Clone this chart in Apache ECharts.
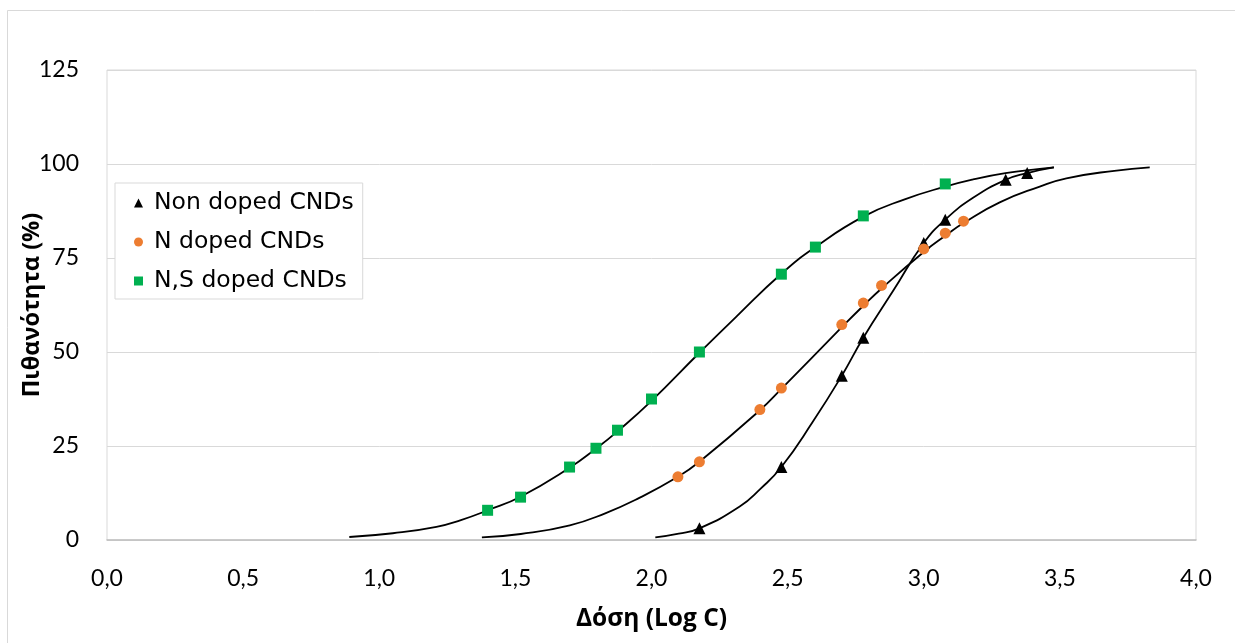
<!DOCTYPE html>
<html>
<head>
<meta charset="utf-8">
<script src="https://cdn.jsdelivr.net/npm/echarts@6/dist/echarts.min.js"></script>
<style>
  html, body { margin: 0; padding: 0; background: #fff; }
  #chart { width: 1235px; height: 643px; }
</style>
</head>
<body>
<div id="chart"></div>
<script>
// ---- Data ----
const xTicks = [0, 0.5, 1, 1.5, 2, 2.5, 3, 3.5, 4];
const yTicks = [0, 25, 50, 75, 100, 125];

const seriesNames = ['Non doped CNDs', 'N doped CNDs', 'N,S doped CNDs'];

// Measured points
const nonDopedX = [2.176, 2.477, 2.699, 2.778, 3.000, 3.079, 3.301, 3.380];
const nonDopedY = [3.1, 19.4, 43.7, 53.8, 79.0, 85.2, 95.8, 97.6];

const nDopedX = [2.097, 2.176, 2.398, 2.477, 2.699, 2.778, 2.845, 3.000, 3.079, 3.146];
const nDopedY = [16.8, 20.8, 34.7, 40.4, 57.3, 63.0, 67.7, 77.4, 81.6, 84.8];

const nsDopedX = [1.398, 1.519, 1.699, 1.796, 1.875, 2.000, 2.176, 2.477, 2.602, 2.778, 3.079];
const nsDopedY = [7.9, 11.4, 19.4, 24.4, 29.2, 37.5, 50.0, 70.7, 77.9, 86.2, 94.7];

// Fitted curves
const nonDopedFitX = [2.014, 2.100, 2.176, 2.324, 2.400, 2.477, 2.593, 2.699, 2.778, 2.887, 3.000, 3.079, 3.181, 3.301, 3.380, 3.478];
const nonDopedFitY = [0.7, 1.7, 3.1, 8.9, 13.6, 19.4, 31.5, 43.7, 53.8, 66.2, 79.0, 85.2, 91.0, 95.8, 97.6, 99.1];

const nDopedFitX = [1.377, 1.520, 1.700, 1.830, 1.950, 2.097, 2.176, 2.398, 2.477, 2.699, 2.778, 2.845, 3.000, 3.079, 3.146, 3.279, 3.426, 3.524, 3.700, 3.830];
const nDopedFitY = [0.7, 1.6, 3.9, 7.1, 11.0, 16.8, 20.8, 34.5, 40.2, 56.6, 62.3, 66.9, 76.6, 80.9, 84.3, 89.8, 94.0, 96.2, 98.2, 99.1];

const nsDopedFitX = [0.890, 1.050, 1.210, 1.300, 1.398, 1.519, 1.699, 1.796, 1.875, 2.000, 2.176, 2.310, 2.477, 2.602, 2.778, 2.930, 3.079, 3.181, 3.300, 3.426, 3.478];
const nsDopedFitY = [0.8, 1.8, 3.5, 5.3, 7.9, 11.5, 19.2, 24.3, 28.9, 37.0, 49.8, 59.3, 70.8, 77.9, 86.0, 90.6, 94.0, 95.9, 97.6, 98.7, 99.1];

const xAxisTitle = 'Δόση (Log C)';
const yAxisTitle = 'Πιθανότητα (%)';

// ---- Build ----
const zip = (xs, ys) => xs.map((x, i) => [x, ys[i]]);
const colors = ['#000000', '#ED7D31', '#00B050'];
const symbols = ['triangle', 'circle', 'rect'];
const symbolSizes = [12, 11, 11];

const pts = [zip(nonDopedX, nonDopedY), zip(nDopedX, nDopedY), zip(nsDopedX, nsDopedY)];
const fits = [zip(nonDopedFitX, nonDopedFitY), zip(nDopedFitX, nDopedFitY), zip(nsDopedFitX, nsDopedFitY)];

const series = [];
fits.forEach((d, i) => {
  series.push({
    type: 'line', name: 'fit' + i, data: d, smooth: 0.5,
    showSymbol: false, symbol: 'none', silent: true, z: 2,
    lineStyle: { color: '#000', width: 1.8 }
  });
});
pts.forEach((d, i) => {
  series.push({
    type: 'scatter', name: seriesNames[i], data: d, symbol: symbols[i],
    symbolSize: symbolSizes[i], itemStyle: { color: colors[i], opacity: 1 }, z: 3
  });
});

const chart = echarts.init(document.getElementById('chart'), null, { renderer: 'canvas' });
chart.setOption({
  animation: false,
  backgroundColor: '#fff',
  graphic: [{
    type: 'rect', shape: { x: 7.5, y: 10.5, width: 1240, height: 650 },
    style: { fill: 'none', stroke: '#d9d9d9', lineWidth: 1 }, z: -10, silent: true
  }],
  grid: {
    left: 107, right: 39, top: 70, bottom: 103,
    show: true, borderColor: '#d9d9d9', borderWidth: 1, backgroundColor: 'transparent'
  },
  legend: {
    data: seriesNames.map((n, i) => ({ name: n, icon: symbols[i] })),
    orient: 'vertical', left: 115, top: 183,
    padding: [7, 9, 5, 19],
    itemGap: 13, itemWidth: 9, itemHeight: 9,
    backgroundColor: '#fff', borderColor: '#d9d9d9', borderWidth: 1,
    textStyle: { fontFamily: 'DejaVu Sans', fontSize: 23.5, color: '#000', lineHeight: 26, padding: [0, 0, 0, 6] },
    selectedMode: false
  },
  xAxis: {
    type: 'value', min: 0, max: 4, interval: 0.5,
    axisLine: { show: true, lineStyle: { color: '#bfbfbf', width: 1.5 } },
    axisTick: { show: false },
    splitLine: { show: false },
    axisLabel: {
      margin: 27, fontFamily: 'Lato', fontSize: 23, color: '#000',
      formatter: v => v.toFixed(1).replace('.', ',')
    },
    name: xAxisTitle, nameLocation: 'middle', nameGap: 67, nameMoveOverlap: false,
    nameTextStyle: { fontFamily: 'Open Sans', fontWeight: 'bold', fontSize: 24.5, color: '#000' }
  },
  yAxis: {
    type: 'value', min: 0, max: 125, interval: 25,
    axisLine: { show: false },
    axisTick: { show: false },
    splitLine: { show: true, lineStyle: { color: '#d9d9d9', width: 1 } },
    axisLabel: { margin: 28, fontFamily: 'Lato', fontSize: 23, color: '#000' },
    name: yAxisTitle, nameLocation: 'middle', nameGap: 63, nameMoveOverlap: false,
    nameTextStyle: { fontFamily: 'Open Sans', fontWeight: 'bold', fontSize: 23.5, color: '#000' }
  },
  series: series
});
</script>
</body>
</html>
